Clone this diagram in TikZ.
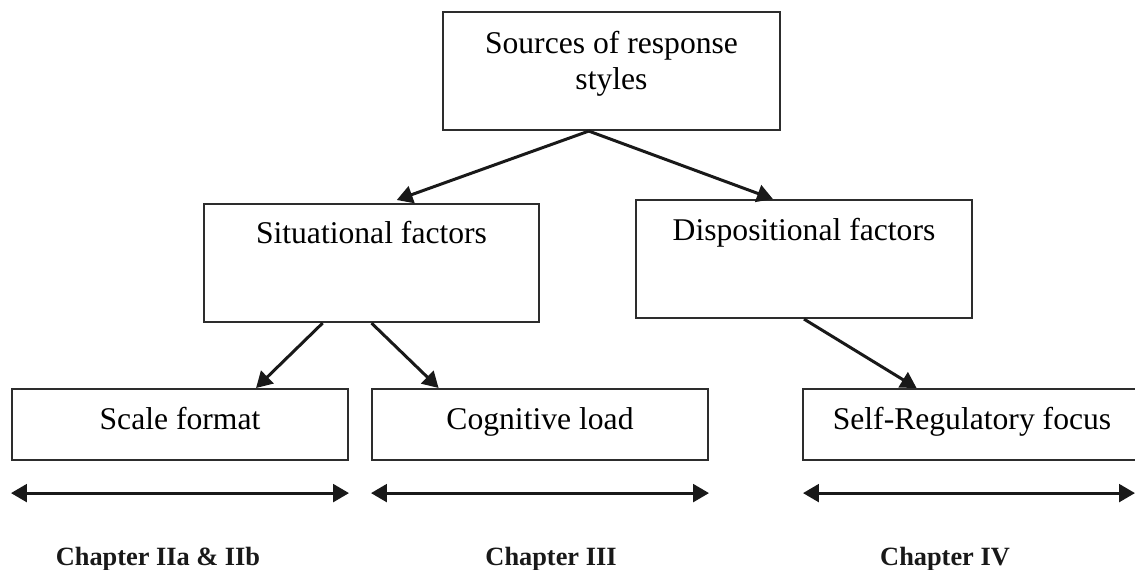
\documentclass[tikz,border=0pt]{standalone}
\usepackage{fontspec}
\setmainfont{Liberation Serif}
\usetikzlibrary{arrows.meta,positioning,calc}
\definecolor{BoxGray}{RGB}{45,45,45}
\definecolor{InkBlack}{RGB}{25,25,25}
\tikzset{
  source/.style={draw=BoxGray,line width=1.2pt,inner sep=0pt,anchor=north,
    minimum width=6.74cm,align=center,font=\fontsize{18}{20.5}\selectfont},
  factor/.style={draw=BoxGray,line width=1.2pt,inner sep=0pt,anchor=north,
    minimum width=6.72cm,font=\fontsize{18}{21}\selectfont},
  topic/.style={factor,text height=0.8cm,text depth=0.62cm},
  arrow/.style={-{Triangle[length=9pt,width=10pt]},line width=1.7pt,InkBlack},
  span/.style={{Triangle[length=9pt,width=10pt]}-{Triangle[length=9pt,width=10pt]},
    line width=1.7pt,InkBlack},
  chapter/.style={anchor=base,font=\fontsize{15}{18}\selectfont\bfseries,InkBlack}
}

\begin{document}
\begin{tikzpicture}[x=0.02cm,y=-0.02cm]
\useasboundingbox (0,0) rectangle (1135,570);

\node[source,text height=1.54cm,text depth=0.82cm] (src) at (611.5,11)
  {Sources of response\\styles};

\node[factor,minimum width=6.7cm,text height=0.78cm,text depth=1.58cm] (sit) at (371.5,203)
  {Situational factors};
\node[factor,text height=0.8cm,text depth=1.56cm] (disp) at (804,199)
  {Dispositional factors};

\node[topic] (scale) at (180,388) {Scale format};
\node[topic] (cog) at (540,388) {Cognitive load};
\node[topic,minimum width=6.76cm] (self) at (972,388) {Self-Regulatory focus};

% tree connectors
\coordinate (srcout) at ($(src.south west)!0.433!(src.south east)$);
\draw[arrow] (srcout) -- ($(sit.north west)!0.575!(sit.north east)+(0,-3)$);
\draw[arrow] (srcout) -- ($(disp.north west)!0.408!(disp.north east)$);
\draw[arrow] ($(sit.south west)!0.355!(sit.south east)$)
  -- ($(scale.north west)!0.725!(scale.north east)$);
\draw[arrow] (sit.south) -- ($(cog.north west)!0.2!(cog.north east)$);
\draw[arrow] (disp.south) -- ($(self.north west)!0.337!(self.north east)$);

% chapter spans
\coordinate (selfend) at ($(self.south west)+(333,32)$);
\draw[span] ($(scale.south west)+(0,32)$) -- ($(scale.south east)+(0,32)$);
\draw[span] ($(cog.south west)+(0,32)$) -- ($(cog.south east)+(0,32)$);
\draw[span] ($(self.south west)+(1,32)$) -- (selfend);

\node[chapter] (ch2) at (158,565) {Chapter IIa \& IIb};
\node[chapter] (ch3) at (551,565) {Chapter III};
\node[chapter] (ch4) at (945,565) {Chapter IV};

\end{tikzpicture}
\end{document}
